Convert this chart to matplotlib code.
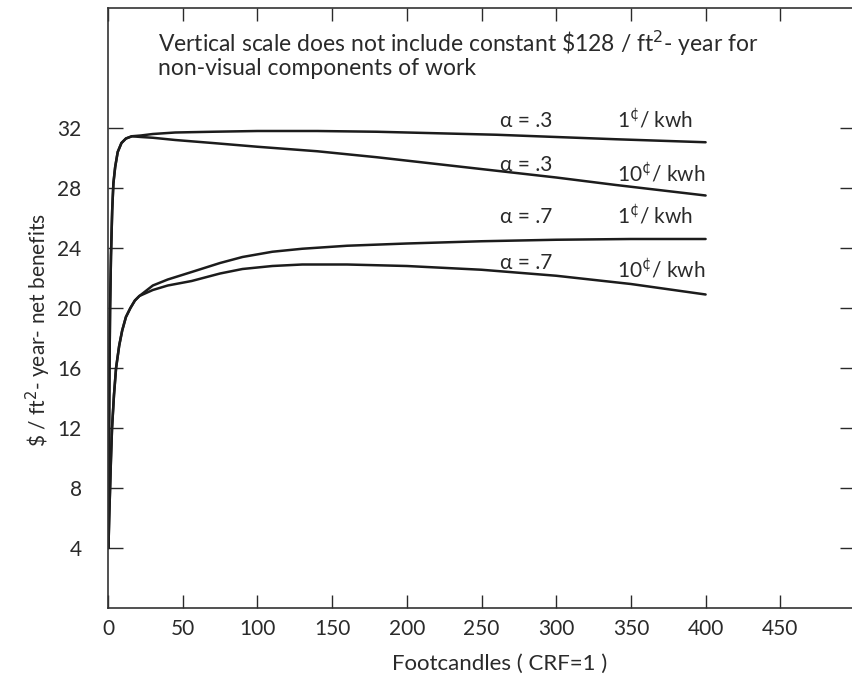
import numpy as np
import matplotlib.pyplot as plt

x_a3_1 = [0.3, 0.6, 1.0, 1.4, 2.0, 2.8, 3.6, 4.8, 6.5, 9, 12, 16, 22, 30, 45, 70, 100, 140, 180, 220, 260, 300, 340, 370, 400]
y_a3_1 = [4.0, 10.0, 16.0, 20.0, 23.5, 26.5, 28.3, 29.4, 30.4, 31.0, 31.3, 31.45, 31.5, 31.6, 31.7, 31.75, 31.8, 31.8, 31.75, 31.65, 31.55, 31.4, 31.25, 31.15, 31.05]

x_a3_10 = [0.3, 0.6, 1.0, 1.4, 2.0, 2.8, 3.6, 4.8, 6.5, 9, 12, 16, 22, 30, 45, 70, 100, 140, 180, 220, 260, 300, 340, 370, 400]
y_a3_10 = [4.0, 10.0, 16.0, 20.0, 23.5, 26.5, 28.3, 29.4, 30.4, 31.0, 31.3, 31.45, 31.4, 31.35, 31.2, 31.0, 30.75, 30.45, 30.05, 29.6, 29.15, 28.7, 28.2, 27.85, 27.5]

x_a7_1 = [0.3, 0.8, 1.4, 2.0, 2.7, 4.0, 5.4, 7.5, 9.5, 12, 15, 18, 21, 30, 40, 56, 75, 90, 110, 130, 160, 200, 250, 300, 350, 400]
y_a7_1 = [4.0, 6.0, 8.0, 10.0, 12.0, 14.2, 16.0, 17.5, 18.5, 19.4, 20.0, 20.5, 20.8, 21.5, 21.9, 22.4, 23.0, 23.4, 23.75, 23.95, 24.15, 24.3, 24.45, 24.55, 24.6, 24.6]

x_a7_10 = [0.3, 0.8, 1.4, 2.0, 2.7, 4.0, 5.4, 7.5, 9.5, 12, 15, 18, 21, 30, 40, 56, 75, 90, 110, 130, 160, 200, 250, 300, 350, 400]
y_a7_10 = [4.0, 6.0, 8.0, 10.0, 12.0, 14.2, 16.0, 17.5, 18.5, 19.4, 20.0, 20.5, 20.8, 21.2, 21.5, 21.8, 22.3, 22.6, 22.8, 22.9, 22.9, 22.8, 22.55, 22.15, 21.6, 20.9]

xticks = [0, 50, 100, 150, 200, 250, 300, 350, 400, 450]
yticks = [4, 8, 12, 16, 20, 24, 28, 32]

alpha_labels = ['α = .3', 'α = .3', 'α = .7', 'α = .7']
alpha_y = [32.05, 29.15, 25.65, 22.6]
cost_labels = ['1$^{¢}$/ kwh', '10$^{¢}$/ kwh', '1$^{¢}$/ kwh', '10$^{¢}$/ kwh']
cost_y = [32.05, 28.4, 25.65, 22.0]

plt.rcParams['font.family'] = ['Lato', 'DejaVu Sans']
ink = '#2a2a2a'

fig = plt.figure(figsize=(8.52, 6.83), dpi=100)
ax = fig.add_axes([108/852, 75/683, 747/852, 600/683])

for xs, ys in [(x_a3_1, y_a3_1), (x_a3_10, y_a3_10), (x_a7_1, y_a7_1), (x_a7_10, y_a7_10)]:
    ax.plot(xs, ys, color='#1c1c1c', lw=1.8, solid_capstyle='round')

ax.set_xlim(0, 500)
ax.set_ylim(0, 40)
ax.set_xticks(xticks)
ax.set_yticks(yticks)
ax.tick_params(axis='x', direction='in', length=9.5, width=1, top=True, labelsize=15, pad=8, colors=ink)
ax.tick_params(axis='y', direction='in', length=10.5, width=1, right=True, labelsize=15, pad=19, colors=ink)
for s in ax.spines.values():
    s.set_color('#333333')
    s.set_linewidth(1.2)

for lab, yy in zip(alpha_labels, alpha_y):
    ax.text(280, yy, lab, ha='center', va='baseline', fontsize=15, color=ink)
for lab, yy in zip(cost_labels, cost_y):
    ax.text(341, yy, lab, ha='left', va='baseline', fontsize=15, color=ink)

ax.text(33.5, 37.07, r'Vertical scale does not include constant \$128 / ft$^2$- year for',
        ha='left', va='baseline', fontsize=16.5, color=ink)
ax.text(33.5, 35.53, 'non-visual components of work',
        ha='left', va='baseline', fontsize=16.5, color=ink)

fig.text(500/852, 1 - 664/683, 'Footcandles ( CRF=1 )', ha='center', va='center', fontsize=16, color=ink)
fig.text(38/852, 1 - 330/683, r'\$ / ft$^2$- year- net benefits', ha='center', va='center',
         rotation=90, fontsize=15, color=ink)

fig.savefig('out.png', dpi=100)
